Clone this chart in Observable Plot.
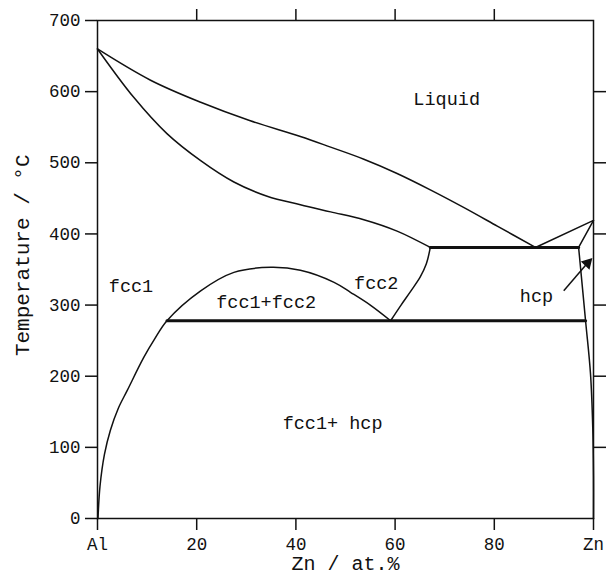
<!DOCTYPE html>
<html>
<head>
<meta charset="utf-8">
<script src="https://cdn.jsdelivr.net/npm/d3@7"></script>
<script src="https://cdn.jsdelivr.net/npm/@observablehq/plot@0.6"></script>
<style>
  html, body { margin: 0; padding: 0; background: #fff; }
</style>
</head>
<body>
<div id="chart"></div>
<script>
// Al–Zn phase diagram boundaries (x: at.% Zn, y: °C)
const liquidus = [[0,660],[10.7,616],[20.8,585],[30.8,559],[40.9,537],[47,522],[53.7,505],[60.4,485],[67.1,462],[73.9,437],[80.6,411],[88.3,381]];
const fccSolidus = [[0,660],[7.3,592],[14,541],[20.8,503],[27.5,473],[34.2,453],[40.9,441],[47,431],[53.7,420],[60.4,404],[67.1,381]];
const hcpLiquidus = [[88.3,381],[100,419]];
const hcpSolidus = [[97,381],[100,419]];
const hcpSolvus = [[97,381],[98.4,278],[99.4,203],[99.85,128],[100,60],[100,0]];
const fcc1SolvusDome = [[0.1,0],[0.5,45],[1.4,90],[2.6,124],[4.2,155],[6,180],[9.3,226],[11.5,252],[14,278],[20.8,320],[27.5,346],[34.9,353],[40.9,349],[47.7,332],[51,318],[55,300],[59.1,278]];
const fcc2Solvus = [[59.1,278],[61.2,300],[63.2,320],[65.1,340],[66.3,358],[67.1,381]];
const peritectic = [[67.1,381],[97,381]];
const monotectoid = [[14,278],[98.4,278]];

const regionLabels = ["Liquid","fcc1","fcc1+fcc2","fcc2","hcp","fcc1+ hcp"];
const regionX = [70.4, 6.75, 34, 56.2, 88.5, 47.4];
const regionY = [590, 327, 304, 331, 312, 133.5];

const arrowFrom = [94.0, 320];
const arrowTo = [98.8, 359];

const xTicks = [0,20,40,60,80,100];
const xTickLabels = ["Al","20","40","60","80","Zn"];
const yTicks = [0,100,200,300,400,500,600,700];
const xTitle = "Zn / at.%";
const yTitle = "Temperature / °C";

const thin = (pts) => Plot.line(pts, {x: d => d[0], y: d => d[1], stroke: "#111", strokeWidth: 1.5, curve: "catmull-rom"});
const thick = (pts) => Plot.line(pts, {x: d => d[0], y: d => d[1], stroke: "#111", strokeWidth: 3});

const labels = regionLabels.map((t, i) => ({t, x: regionX[i], y: regionY[i]}));

const chart = Plot.plot({
  width: 612,
  height: 576,
  marginLeft: 97,
  marginRight: 19,
  marginTop: 20,
  marginBottom: 58,
  style: {fontFamily: "'Liberation Mono', 'Courier New', monospace", fontSize: "17.5px", color: "#111", background: "#fff"},
  x: {domain: [0, 100]},
  y: {domain: [0, 700]},
  marks: [
    Plot.axisX({ticks: xTicks, tickFormat: d => xTickLabels[xTicks.indexOf(d)], tickSize: 12, tickPadding: 7, strokeWidth: 1.5, fontSize: 17.5, label: null}),
    Plot.axisX({anchor: "top", ticks: [20,40,60,80], tickSize: 12, tickFormat: () => "", strokeWidth: 1.5, label: null}),
    Plot.axisY({ticks: yTicks, tickSize: 12, tickPadding: 5, strokeWidth: 1.5, fontSize: 17.5, label: null}),
    Plot.axisY({anchor: "right", ticks: [100,200,300,400,500,600], tickSize: 12, tickFormat: () => "", strokeWidth: 1.5, label: null}),
    Plot.frame({stroke: "#111", strokeWidth: 1.5}),
    thin(liquidus),
    thin(fccSolidus),
    thin(hcpLiquidus),
    thin(hcpSolidus),
    thin(hcpSolvus),
    thin(fcc1SolvusDome),
    thin(fcc2Solvus),
    thick(peritectic),
    thick(monotectoid),
    Plot.link([{x1: arrowFrom[0], y1: arrowFrom[1], x2: arrowTo[0], y2: arrowTo[1]}], {x1: "x1", y1: "y1", x2: "x2", y2: "y2", stroke: "#111", strokeWidth: 1.5}),
    Plot.dot([{x: arrowTo[0], y: arrowTo[1]}], {x: "x", y: "y", symbol: "triangle", r: 3.5, fill: "#111", stroke: "#111", rotate: 44}),
    Plot.text(labels, {x: "x", y: "y", text: "t", fontSize: 18.5, fill: "#111"}),
    Plot.text([{t: yTitle, x: -15.1, y: 370}], {x: "x", y: "y", text: "t", rotate: -90, fontSize: 21, fill: "#111"}),
    Plot.text([{t: xTitle, x: 50, y: -63}], {x: "x", y: "y", text: "t", fontSize: 20, fill: "#111"})
  ]
});
document.getElementById("chart").appendChild(chart);
</script>
</body>
</html>
